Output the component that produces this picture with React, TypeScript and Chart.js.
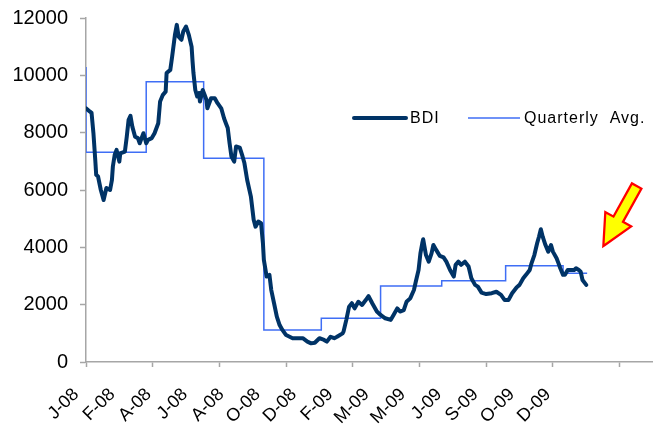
import React, { useEffect, useRef } from "react";
import { Chart, registerables } from "chart.js";

Chart.register(...registerables);

// ---- Data (x = trading-day index from start of Jan-2008) ----
const bdiDay = [
  0, 4, 6, 8, 10, 11, 13, 16, 19, 22, 26, 28, 29, 31, 33, 36, 37, 42, 44, 46,
  48, 50, 53, 56, 58, 60, 62, 65, 67, 71, 74, 78, 80, 83, 86, 87, 91, 93, 96, 98,
  100, 103, 105, 108, 111, 114, 115, 116, 118, 120, 122, 123, 126, 128, 130, 131, 135, 139, 142, 146,
  149, 151, 153, 155, 157, 160, 162, 166, 169, 171, 174, 178, 181, 183, 186, 189, 191, 192, 195, 198,
  200, 203, 206, 209, 212, 216, 223, 230, 234, 239, 243, 247, 252, 257, 260, 264, 268, 271, 277, 278,
  281, 284, 287, 290, 294, 298, 302, 305, 309, 314, 318, 323, 329, 332, 336, 339, 343, 346, 350, 354,
  356, 359, 361, 363, 364, 367, 370, 373, 375, 378, 382, 386, 389, 393, 397, 399, 402, 405, 409, 413,
  416, 420, 423, 427, 432, 438, 443, 448, 452, 456, 460, 465, 468, 472, 475, 479, 481, 484, 487, 489,
  491, 493, 496, 499, 502, 504, 508, 510, 512, 515, 517, 520, 524, 527, 529, 532, 534, 536, 540
];
const bdiValue = [
  8850, 8740, 8690, 7990, 7050, 6530, 6470, 6000, 5650, 6070, 6000, 6350, 6820, 7230, 7400, 6990, 7280, 7340, 7860, 8450,
  8590, 8210, 7860, 7810, 7630, 7810, 7980, 7630, 7750, 7810, 7980, 8330, 9090, 9320, 9430, 10080, 10190, 10660, 11410, 11760,
  11350, 11240, 11530, 11700, 11410, 11000, 10500, 10080, 9490, 9260, 9380, 9090, 9490, 9320, 9150, 8850, 9200, 9200, 9030, 8850,
  8500, 8330, 8160, 7630, 7170, 6990, 7520, 7480, 7170, 6940, 6350, 5770, 4960, 4720, 4900, 4840, 4140, 3560, 2980, 3040,
  2510, 2050, 1580, 1290, 1120, 940, 830, 830, 830, 710, 650, 670, 830, 770, 710, 880, 830, 880, 1000, 1060,
  1470, 1930, 2050, 1870, 2100, 1990, 2160, 2300, 2050, 1760, 1640, 1525, 1470, 1640, 1870, 1760, 1810, 2100, 2220, 2510,
  2800, 3210, 3790, 4140, 4280, 3730, 3500, 3790, 4080, 3910, 3700, 3650, 3500, 3210, 2980, 3390, 3500, 3390, 3500, 3330,
  2920, 2690, 2630, 2420, 2370, 2400, 2450, 2340, 2160, 2160, 2400, 2610, 2690, 2920, 3040, 3210, 3450, 3730, 4140, 4370,
  4630, 4370, 4080, 3850, 4080, 3850, 3620, 3450, 3270, 3040, 3040, 3210, 3210, 3210, 3270, 3210, 3150, 2860, 2690, 2650
];

const quarterDay = [0, 0, 65, 127, 192, 254, 318, 384, 453, 515, 541];
const quarterAvg = [10290, 7320, 9780, 7110, 1120, 1525, 2650, 2830, 3360, 3095, 3095];

const xLabels = [
  "J-08", "F-08", "A-08", "J-08", "A-08", "O-08", "D-08",
  "F-09", "M-09", "M-09", "J-09", "S-09", "O-09", "D-09"
];
const LABEL_STEP = 39.2; // days between labels
const TICK_STEP = 72; // days between tick marks
const X_MAX = 611;
const Y_MAX = 12000;
const Y_STEP = 2000;

const FONT = "'Liberation Sans', Arial, sans-serif";
const AXIS_GRAY = "#a6a6a6";
const BDI_COLOR = "#003366";
const AVG_COLOR = "#3f6ef5";

const isLabelPos = (v: number) => {
  const i = Math.round(v / LABEL_STEP);
  return i >= 0 && i < xLabels.length && Math.abs(i * LABEL_STEP - v) < 0.01 ? i : -1;
};
const isTickPos = (v: number) => Math.abs(v / TICK_STEP - Math.round(v / TICK_STEP)) < 1e-6;

const decorPlugin = {
  id: "decor",
  afterDraw(chart: any) {
    const ctx = chart.ctx as CanvasRenderingContext2D;
    ctx.save();
    // legend
    const ly = 118;
    ctx.lineCap = "round";
    ctx.strokeStyle = BDI_COLOR;
    ctx.lineWidth = 4;
    ctx.beginPath();
    ctx.moveTo(354, ly);
    ctx.lineTo(406, ly);
    ctx.stroke();
    ctx.lineCap = "butt";
    ctx.strokeStyle = AVG_COLOR;
    ctx.lineWidth = 1.5;
    ctx.beginPath();
    ctx.moveTo(468, ly);
    ctx.lineTo(520, ly);
    ctx.stroke();
    ctx.fillStyle = "#000";
    ctx.font = `16px ${FONT}`;
    ctx.textBaseline = "middle";
    (ctx as any).letterSpacing = "1px";
    ctx.fillText("BDI", 410, ly + 1);
    ctx.fillText("Quarterly  Avg.", 524, ly + 1);
    (ctx as any).letterSpacing = "0px";

    // arrow annotation
    const T = [604.6, 243.8];
    const d = [-0.485, 0.874];
    const n = [0.874, 0.485];
    const headLen = 27, headHalf = 13, shaftHalf = 4.3, total = 65;
    const B = [T[0] - headLen * d[0], T[1] - headLen * d[1]];
    const E = [T[0] - total * d[0], T[1] - total * d[1]];
    const pts = [
      T,
      [B[0] + headHalf * n[0], B[1] + headHalf * n[1]],
      [B[0] + shaftHalf * n[0], B[1] + shaftHalf * n[1]],
      [E[0] + shaftHalf * n[0], E[1] + shaftHalf * n[1]],
      [E[0] - shaftHalf * n[0], E[1] - shaftHalf * n[1]],
      [B[0] - shaftHalf * n[0], B[1] - shaftHalf * n[1]],
      [B[0] - headHalf * n[0], B[1] - headHalf * n[1]],
    ];
    ctx.beginPath();
    pts.forEach((p, i) => (i ? ctx.lineTo(p[0], p[1]) : ctx.moveTo(p[0], p[1])));
    ctx.closePath();
    ctx.lineJoin = "miter";
    ctx.miterLimit = 10;
    ctx.strokeStyle = "#ff0000";
    ctx.lineWidth = 4.5;
    ctx.stroke();
    ctx.fillStyle = "#ffff00";
    ctx.fill();
    ctx.restore();
  },
};

export default function App() {
  const canvasRef = useRef<HTMLCanvasElement>(null);

  useEffect(() => {
    if (!canvasRef.current) return;
    const chart = new Chart(canvasRef.current, {
      type: "line",
      data: {
        datasets: [
          {
            label: "BDI",
            data: bdiDay.map((x, i) => ({ x, y: bdiValue[i] })),
            borderColor: BDI_COLOR,
            borderWidth: 4,
            pointRadius: 0,
            borderCapStyle: "round",
            borderJoinStyle: "round",
            tension: 0,
          },
          {
            label: "Quarterly Avg.",
            data: quarterDay.map((x, i) => ({ x, y: quarterAvg[i] })),
            borderColor: AVG_COLOR,
            borderWidth: 1.5,
            pointRadius: 0,
            stepped: true,
          },
        ],
      },
      options: {
        animation: false,
        responsive: false,
        maintainAspectRatio: false,
        layout: { padding: { top: 18, right: 3, left: 0, bottom: 0 } },
        plugins: { legend: { display: false }, tooltip: { enabled: false } },
        scales: {
          x: {
            type: "linear",
            min: 0,
            max: X_MAX,
            afterBuildTicks: (scale: any) => {
              const vals: number[] = [];
              for (let v = 0; v <= X_MAX; v += TICK_STEP) vals.push(v);
              xLabels.forEach((_, i) => {
                const v = +(i * LABEL_STEP).toFixed(2);
                if (!vals.some((w) => Math.abs(w - v) < 1e-6)) vals.push(v);
              });
              vals.sort((a, b) => a - b);
              scale.ticks = vals.map((value) => ({ value }));
            },
            afterFit: (scale: any) => {
              scale.height = 63;
              scale.paddingLeft = 0;
              scale.paddingRight = 0;
            },
            border: { color: AXIS_GRAY, width: 1.5 },
            grid: {
              drawOnChartArea: false,
              drawTicks: true,
              tickLength: 5,
              tickWidth: 1.5,
              tickColor: (c: any) => (c.tick && isTickPos(c.tick.value) ? AXIS_GRAY : "rgba(0,0,0,0)"),
            },
            ticks: {
              autoSkip: false,
              minRotation: 45,
              maxRotation: 45,
              padding: 17,
              labelOffset: -10,
              color: "#000",
              font: { family: FONT, size: 18 },
              callback: (v: any) => {
                const i = isLabelPos(Number(v));
                return i >= 0 ? xLabels[i] : "";
              },
            },
          },
          y: {
            min: 0,
            max: Y_MAX,
            afterFit: (scale: any) => {
              scale.width = 86;
              scale.paddingTop = 0;
              scale.paddingBottom = 0;
            },
            border: { color: AXIS_GRAY, width: 1.5 },
            grid: {
              drawOnChartArea: false,
              drawTicks: true,
              tickLength: 6,
              tickWidth: 1.5,
              tickColor: AXIS_GRAY,
            },
            ticks: {
              stepSize: Y_STEP,
              padding: 12,
              color: "#000",
              font: { family: FONT, size: 20 },
              callback: (v: any) => String(v),
            },
          },
        },
      },
      plugins: [decorPlugin],
    });
    return () => chart.destroy();
  }, []);

  return (
    <div style={{ position: "fixed", left: 0, top: 0, width: 655, height: 425, background: "#fff" }}>
      <canvas ref={canvasRef} width={655} height={425} style={{ width: 655, height: 425, display: "block" }} />
    </div>
  );
}
